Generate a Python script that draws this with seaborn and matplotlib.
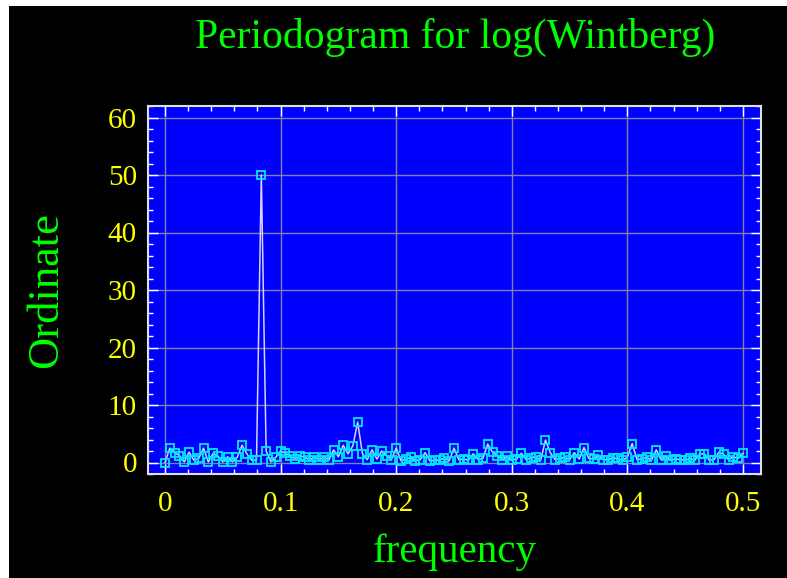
import numpy as np
import pandas as pd
import seaborn as sns
import matplotlib.pyplot as plt
from matplotlib.patches import Rectangle
from matplotlib.ticker import MultipleLocator

# periodogram ordinates, frequencies k/240 for k = 0..120
n_obs = 240
ordinate = [
    0.0, 2.5, 1.7, 1.2, 0.1, 1.8, 0.4, 0.7, 2.5, 0.1,
    1.6, 1.1, 0.1, 1.0, 0.1, 0.9, 3.0, 1.5, 0.4, 0.4,
    50.0, 2.0, 0.1, 0.9, 2.0, 1.6, 1.1, 0.6, 1.1, 1.0,
    0.4, 1.0, 0.4, 1.0, 0.4, 2.2, 1.0, 3.0, 1.5, 2.9,
    7.0, 1.5, 0.5, 2.2, 0.6, 2.0, 1.2, 0.5, 2.5, 0.3,
    0.6, 0.9, 0.3, 0.5, 1.7, 0.3, 0.4, 0.4, 0.8, 0.3,
    2.5, 0.5, 0.6, 0.4, 1.5, 0.5, 0.7, 3.2, 1.8, 1.2,
    0.5, 1.1, 0.4, 0.6, 1.6, 0.5, 0.8, 1.0, 0.4, 3.9,
    1.7, 0.5, 0.7, 0.9, 0.5, 1.7, 0.6, 2.6, 0.7, 0.6,
    1.3, 0.5, 0.5, 0.8, 0.7, 0.4, 0.9, 3.3, 0.5, 0.6,
    0.9, 0.4, 2.2, 0.5, 1.1, 0.4, 0.6, 0.5, 0.4, 0.7,
    0.4, 1.5, 1.5, 0.4, 0.5, 1.8, 1.4, 0.5, 1.0, 0.7,
    1.6,
]
frequency = [k / n_obs for k in range(len(ordinate))]

x_ticks = [0, 0.1, 0.2, 0.3, 0.4, 0.5]
x_tick_labels = ["0", "0.1", "0.2", "0.3", "0.4", "0.5"]
y_ticks = [0, 10, 20, 30, 40, 50, 60]

df = pd.DataFrame({"frequency": frequency, "Ordinate": ordinate})

serif = ["Liberation Serif", "DejaVu Serif"]
W, H = 787, 578
fig = plt.figure(figsize=(W / 100, H / 100), dpi=100)
fig.patch.set_facecolor("white")
fig.add_artist(Rectangle((9 / W, 0), (W - 9) / W, (H - 6) / H,
                         transform=fig.transFigure, facecolor="black",
                         edgecolor="none", zorder=0))

ax = fig.add_axes([148 / W, (H - 474) / H, 613 / W, 368 / H])
ax.set_facecolor("#0000ff")

sns.lineplot(data=df, x="frequency", y="Ordinate", ax=ax,
             color="#d4d4ff", linewidth=1.1,
             marker="s", markersize=5.5, markerfacecolor="none",
             markeredgecolor="#00e8ff", markeredgewidth=1.3, zorder=3)

ax.set_xlim(-0.0147, 0.5156)
ax.set_ylim(-2, 62)
ax.set_xticks(x_ticks)
ax.set_xticklabels(x_tick_labels)
ax.set_yticks(y_ticks)
ax.xaxis.set_minor_locator(MultipleLocator(0.02))
ax.yaxis.set_minor_locator(MultipleLocator(2))
ax.grid(True, which="major", color="#8080b0", linewidth=1, zorder=1)

ax.tick_params(which="both", direction="in", color="white", width=1,
               top=True, right=True, labelcolor="#ffff00", labelsize=21)
ax.tick_params(which="major", length=7)
ax.tick_params(which="minor", length=3.5)
ax.tick_params(axis="x", pad=12)
ax.tick_params(axis="y", pad=8)
for lab in ax.get_xticklabels() + ax.get_yticklabels():
    lab.set_family(serif)
for sp in ax.spines.values():
    sp.set_color("#e0e0e0")
    sp.set_linewidth(1.5)

ax.set_xlabel("frequency", color="#00ff00", fontsize=29.5, family=serif, labelpad=12)
ax.set_ylabel("Ordinate", color="#00ff00", fontsize=32, family=serif, labelpad=30)

fig.text(455 / W, 1 - 37 / H, "Periodogram for log(Wintberg)", color="#00ff00",
         fontsize=30, family=serif, ha="center", va="center")

fig.savefig("out.png", dpi=100, facecolor=fig.get_facecolor())
